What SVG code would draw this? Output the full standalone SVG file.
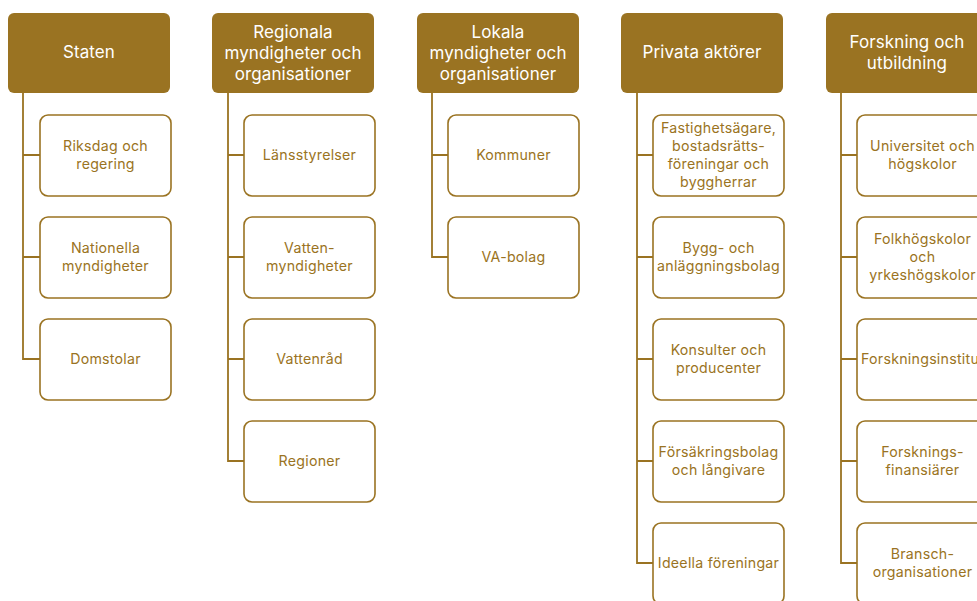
<svg xmlns="http://www.w3.org/2000/svg" width="977" height="601" viewBox="0 0 977 601">
<style>
.hd{fill:#9A7322;}
.hdt{fill:#ffffff;font-family:Inter,"Liberation Sans",sans-serif;font-size:17px;letter-spacing:0.1px;text-anchor:middle;}
.ch{fill:#ffffff;stroke:#9A7322;stroke-width:1.6;}
.cht{fill:#9A7322;font-family:Inter,"Liberation Sans",sans-serif;font-size:14.2px;letter-spacing:0.25px;text-anchor:middle;}
.con{fill:none;stroke:#9A7322;stroke-width:1.8;}
</style>
<rect width="977" height="601" fill="#ffffff"/>
<g id="connectors">
<path class="con" d="M23,93V360M23,155H40M23,257H40M23,359H40"/>
<path class="con" d="M228,93V462M228,155H244M228,257H244M228,359H244M228,461H244"/>
<path class="con" d="M432,93V258M432,155H448M432,257H448"/>
<path class="con" d="M637,93V564M637,155H653M637,257H653M637,359H653M637,461H653M637,563H653"/>
<path class="con" d="M841,93V564M841,155H857M841,257H857M841,359H857M841,461H857M841,563H857"/>
</g>
<g id="h1"><rect class="hd" x="8" y="13" width="162" height="80" rx="6"/><text class="hdt" x="89" y="58">Staten</text></g>
<g id="h2"><rect class="hd" x="212" y="13" width="162" height="80" rx="6"/><text class="hdt" x="293" y="38">Regionala</text><text class="hdt" x="293" y="59">myndigheter och</text><text class="hdt" x="293" y="80">organisationer</text></g>
<g id="h3"><rect class="hd" x="417" y="13" width="162" height="80" rx="6"/><text class="hdt" x="498" y="38">Lokala</text><text class="hdt" x="498" y="59">myndigheter och</text><text class="hdt" x="498" y="80">organisationer</text></g>
<g id="h4"><rect class="hd" x="621" y="13" width="162" height="80" rx="6"/><text class="hdt" x="702" y="58">Privata aktörer</text></g>
<g id="h5"><rect class="hd" x="826" y="13" width="162" height="80" rx="6"/><text class="hdt" x="907" y="48">Forskning och</text><text class="hdt" x="907" y="69">utbildning</text></g>

<g id="c1a"><rect class="ch" x="40" y="115" width="131" height="81" rx="8"/><text class="cht" x="105.5" y="151">Riksdag och</text><text class="cht" x="105.5" y="169">regering</text></g>
<g id="c1b"><rect class="ch" x="40" y="217" width="131" height="81" rx="8"/><text class="cht" x="105.5" y="253">Nationella</text><text class="cht" x="105.5" y="271">myndigheter</text></g>
<g id="c1c"><rect class="ch" x="40" y="319" width="131" height="81" rx="8"/><text class="cht" x="105.5" y="364">Domstolar</text></g>

<g id="c2a"><rect class="ch" x="244" y="115" width="131" height="81" rx="8"/><text class="cht" x="309.5" y="160">Länsstyrelser</text></g>
<g id="c2b"><rect class="ch" x="244" y="217" width="131" height="81" rx="8"/><text class="cht" x="309.5" y="253">Vatten-</text><text class="cht" x="309.5" y="271">myndigheter</text></g>
<g id="c2c"><rect class="ch" x="244" y="319" width="131" height="81" rx="8"/><text class="cht" x="309.5" y="364">Vattenråd</text></g>
<g id="c2d"><rect class="ch" x="244" y="421" width="131" height="81" rx="8"/><text class="cht" x="309.5" y="466">Regioner</text></g>

<g id="c3a"><rect class="ch" x="448" y="115" width="131" height="81" rx="8"/><text class="cht" x="513.5" y="160">Kommuner</text></g>
<g id="c3b"><rect class="ch" x="448" y="217" width="131" height="81" rx="8"/><text class="cht" x="513.5" y="262">VA-bolag</text></g>

<g id="c4a"><rect class="ch" x="653" y="115" width="131" height="81" rx="8"/><text class="cht" x="718.5" y="133">Fastighetsägare,</text><text class="cht" x="718.5" y="151">bostadsrätts-</text><text class="cht" x="718.5" y="169">föreningar och</text><text class="cht" x="718.5" y="187">byggherrar</text></g>
<g id="c4b"><rect class="ch" x="653" y="217" width="131" height="81" rx="8"/><text class="cht" x="718.5" y="253">Bygg- och</text><text class="cht" x="718.5" y="271">anläggningsbolag</text></g>
<g id="c4c"><rect class="ch" x="653" y="319" width="131" height="81" rx="8"/><text class="cht" x="718.5" y="355">Konsulter och</text><text class="cht" x="718.5" y="373">producenter</text></g>
<g id="c4d"><rect class="ch" x="653" y="421" width="131" height="81" rx="8"/><text class="cht" x="718.5" y="457">Försäkringsbolag</text><text class="cht" x="718.5" y="475">och långivare</text></g>
<g id="c4e"><rect class="ch" x="653" y="523" width="131" height="81" rx="8"/><text class="cht" x="718.5" y="568">Ideella föreningar</text></g>

<g id="c5a"><rect class="ch" x="857" y="115" width="131" height="81" rx="8"/><text class="cht" x="922.5" y="151">Universitet och</text><text class="cht" x="922.5" y="169">högskolor</text></g>
<g id="c5b"><rect class="ch" x="857" y="217" width="131" height="81" rx="8"/><text class="cht" x="922.5" y="244">Folkhögskolor</text><text class="cht" x="922.5" y="262">och</text><text class="cht" x="922.5" y="280">yrkeshögskolor</text></g>
<g id="c5c"><rect class="ch" x="857" y="319" width="131" height="81" rx="8"/><text class="cht" x="922.5" y="364">Forskningsinstitut</text></g>
<g id="c5d"><rect class="ch" x="857" y="421" width="131" height="81" rx="8"/><text class="cht" x="922.5" y="457">Forsknings-</text><text class="cht" x="922.5" y="475">finansiärer</text></g>
<g id="c5e"><rect class="ch" x="857" y="523" width="131" height="81" rx="8"/><text class="cht" x="922.5" y="559">Bransch-</text><text class="cht" x="922.5" y="577">organisationer</text></g>
</svg>
